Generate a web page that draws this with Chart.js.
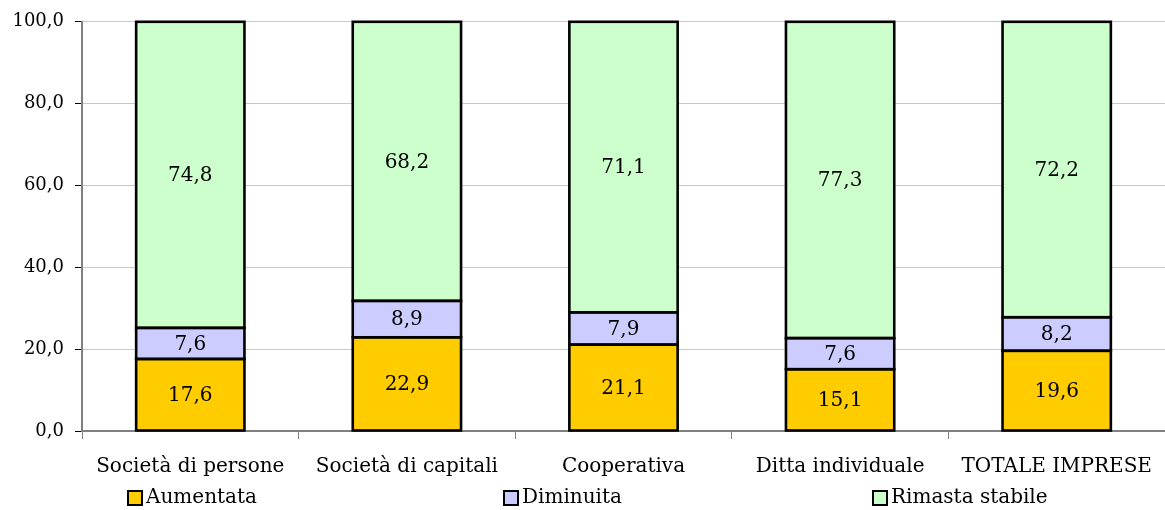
<!DOCTYPE html>
<html><head><meta charset="utf-8">
<script src="https://cdn.jsdelivr.net/npm/chart.js@4/dist/chart.umd.min.js"></script>
<style>html,body{margin:0;padding:0;background:#fff}#wrap{width:1165px;height:510px}</style>
</head><body><div id="wrap"><canvas id="c" width="1165" height="510"></canvas></div>
<script>
const categories = ["Società di persone","Società di capitali","Cooperativa","Ditta individuale","TOTALE IMPRESE"];
const aumentata = [17.6,22.9,21.1,15.1,19.6];
const diminuita = [7.6,8.9,7.9,7.6,8.2];
const rimasta = [74.8,68.2,71.1,77.3,72.2];
const seriesNames = ["Aumentata","Diminuita","Rimasta stabile"];
const seriesColors = ["#FFCC00","#CCCCFF","#CCFFCC"];
const FONT = "'DejaVu Serif', 'Liberation Serif', serif";
const fmt = v => v.toFixed(1).replace('.', ',');

const labelPlugin = {
  id: 'vlabels',
  afterDatasetsDraw(chart) {
    const ctx = chart.ctx;
    ctx.save();
    ctx.strokeStyle = "#000";
    ctx.lineWidth = 2.6;
    chart.data.datasets.forEach((ds, i) => {
      chart.getDatasetMeta(i).data.forEach((bar) => {
        const top = Math.max(bar.y, chart.chartArea.top);
        ctx.strokeRect(bar.x - bar.width / 2, top, bar.width, bar.base - top);
      });
    });
    ctx.font = "20px " + FONT;
    ctx.fillStyle = "#000";
    ctx.textAlign = "center";
    ctx.textBaseline = "middle";
    chart.data.datasets.forEach((ds, i) => {
      chart.getDatasetMeta(i).data.forEach((bar, j) => {
        const top = Math.max(bar.y, chart.chartArea.top);
        ctx.fillText(fmt(ds.data[j]), bar.x, (top + bar.base) / 2 + 1);
      });
    });
    ctx.restore();
  }
};

const legendPlugin = {
  id: 'customLegend',
  afterDraw(chart) {
    const ctx = chart.ctx;
    const xs = [128, 504, 873];
    ctx.save();
    ctx.font = "20px " + FONT;
    ctx.textBaseline = "middle";
    ctx.textAlign = "left";
    chart.data.datasets.forEach((ds, i) => {
      const x = xs[i], y = 498;
      ctx.fillStyle = ds.backgroundColor;
      ctx.fillRect(x, y - 7, 14, 14);
      ctx.lineWidth = 2;
      ctx.strokeStyle = "#000";
      ctx.strokeRect(x, y - 7, 14, 14);
      ctx.fillStyle = "#000";
      ctx.fillText(ds.label, x + 18, y);
    });
    ctx.restore();
  }
};

new Chart(document.getElementById('c'), {
  type: 'bar',
  data: {
    labels: categories,
    datasets: [aumentata, diminuita, rimasta].map((d, i) => ({
      label: seriesNames[i],
      data: d,
      backgroundColor: seriesColors[i],
      borderWidth: 0,
      inflateAmount: 0.5,
      barPercentage: 0.5,
      categoryPercentage: 1.0
    }))
  },
  options: {
    responsive: false,
    animation: false,
    layout: { padding: { top: 19, right: 0, left: 0, bottom: 0 } },
    plugins: { legend: { display: false }, tooltip: { enabled: false } },
    scales: {
      x: {
        stacked: true,
        afterFit(s) { s.height = 79; s.paddingLeft = 0; s.paddingRight = 0; },
        grid: { display: true, drawOnChartArea: false, offset: true, tickLength: 8, color: "#808080", tickColor: "#808080" },
        border: { color: "#808080", width: 2 },
        ticks: { font: { family: FONT, size: 20 }, color: "#000", padding: 16, maxRotation: 0 }
      },
      y: {
        stacked: true,
        min: 0, max: 100,
        afterFit(s) { s.width = 82; },
        grid: { color: "#c8c8c8", tickLength: 7, tickColor: "#000", lineWidth: 1 },
        border: { color: "#808080", width: 2 },
        ticks: { stepSize: 20, font: { family: FONT, size: 18 }, color: "#000", padding: 11, callback: v => fmt(v) }
      }
    }
  },
  plugins: [labelPlugin, legendPlugin]
});
</script></body></html>
